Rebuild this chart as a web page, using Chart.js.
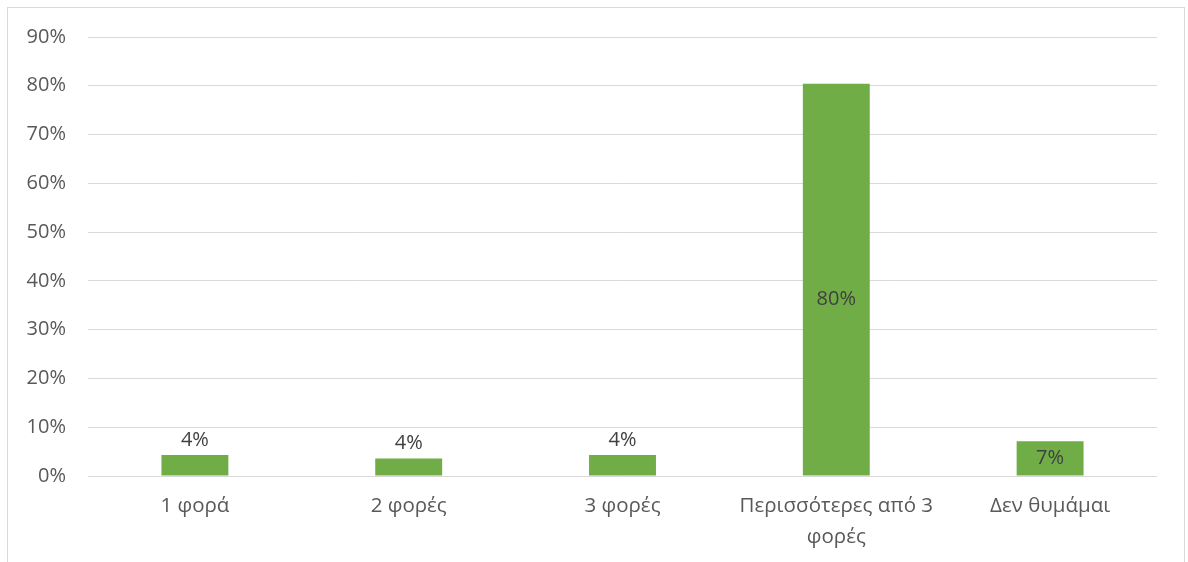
<!DOCTYPE html>
<html>
<head>
<meta charset="utf-8">
<script src="https://cdn.jsdelivr.net/npm/chart.js@4/dist/chart.umd.min.js"></script>
<style>
  html, body { margin: 0; padding: 0; background: #fff; }
  #wrap { position: relative; width: 1188px; height: 562px; }
</style>
</head>
<body>
<div id="wrap"><canvas id="c" width="1188" height="562"></canvas></div>
<script>
// Response categories (the long one is split over two lines)
const categories = [
  '1 φορά',
  '2 φορές',
  '3 φορές',
  ['Περισσότερες από 3', 'φορές'],
  'Δεν θυμάμαι'
];
// Share of respondents, percent
const shares = [4.3, 3.6, 4.3, 80.4, 7.1];
// Y-axis ticks, percent
const yTicks = [0, 10, 20, 30, 40, 50, 60, 70, 80, 90];

const FONT = '"Open Sans", "Noto Sans", sans-serif';

// Thin grey frame around the whole chart
const framePlugin = {
  id: 'frame',
  beforeDraw(chart) {
    const ctx = chart.ctx;
    ctx.save();
    ctx.strokeStyle = '#d9d9d9';
    ctx.lineWidth = 1;
    ctx.strokeRect(7.5, 7.5, 1177, 620);
    ctx.restore();
  }
};

// Value labels: small bars get the label above, tall bars inside
const valueLabels = {
  id: 'valueLabels',
  afterDatasetsDraw(chart) {
    const ctx = chart.ctx;
    const meta = chart.getDatasetMeta(0);
    ctx.save();
    ctx.font = '20px ' + FONT;
    ctx.fillStyle = '#404040';
    ctx.textAlign = 'center';
    ctx.textBaseline = 'middle';
    meta.data.forEach((bar, i) => {
      const v = chart.data.datasets[0].data[i];
      const txt = Math.round(v) + '%';
      const h = bar.base - bar.y;
      let y;
      if (h < 25) {
        y = bar.y - 15;
      } else if (h < 60) {
        y = (bar.y + bar.base) / 2;
      } else {
        y = (bar.y + bar.base) / 2 + 20;
      }
      ctx.fillText(txt, bar.x, y);
    });
    ctx.restore();
  }
};

new Chart(document.getElementById('c'), {
  type: 'bar',
  data: {
    labels: categories,
    datasets: [{
      data: shares,
      backgroundColor: '#70ad47',
      borderWidth: 0,
      categoryPercentage: 1,
      barPercentage: 0.313
    }]
  },
  options: {
    responsive: false,
    animation: false,
    devicePixelRatio: 1,
    layout: { padding: { top: 37, right: 31, bottom: 0, left: 0 } },
    plugins: {
      legend: { display: false },
      tooltip: { enabled: false }
    },
    scales: {
      x: {
        grid: { display: false },
        border: { display: false },
        ticks: {
          color: '#595959',
          font: { family: FONT, size: 20.5, lineHeight: 1.5 },
          padding: 7,
          maxRotation: 0,
          autoSkip: false
        },
        afterFit(scale) { scale.height = 562 - 476; }
      },
      y: {
        min: 0,
        max: 90,
        afterBuildTicks(scale) { scale.ticks = yTicks.map(v => ({ value: v })); },
        grid: { color: '#d9d9d9', lineWidth: 1, drawTicks: false },
        border: { display: false },
        ticks: {
          color: '#595959',
          font: { family: FONT, size: 20 },
          padding: 22,
          callback: v => v + '%'
        },
        afterFit(scale) { scale.width = 88; }
      }
    }
  },
  plugins: [framePlugin, valueLabels]
});
</script>
</body>
</html>
